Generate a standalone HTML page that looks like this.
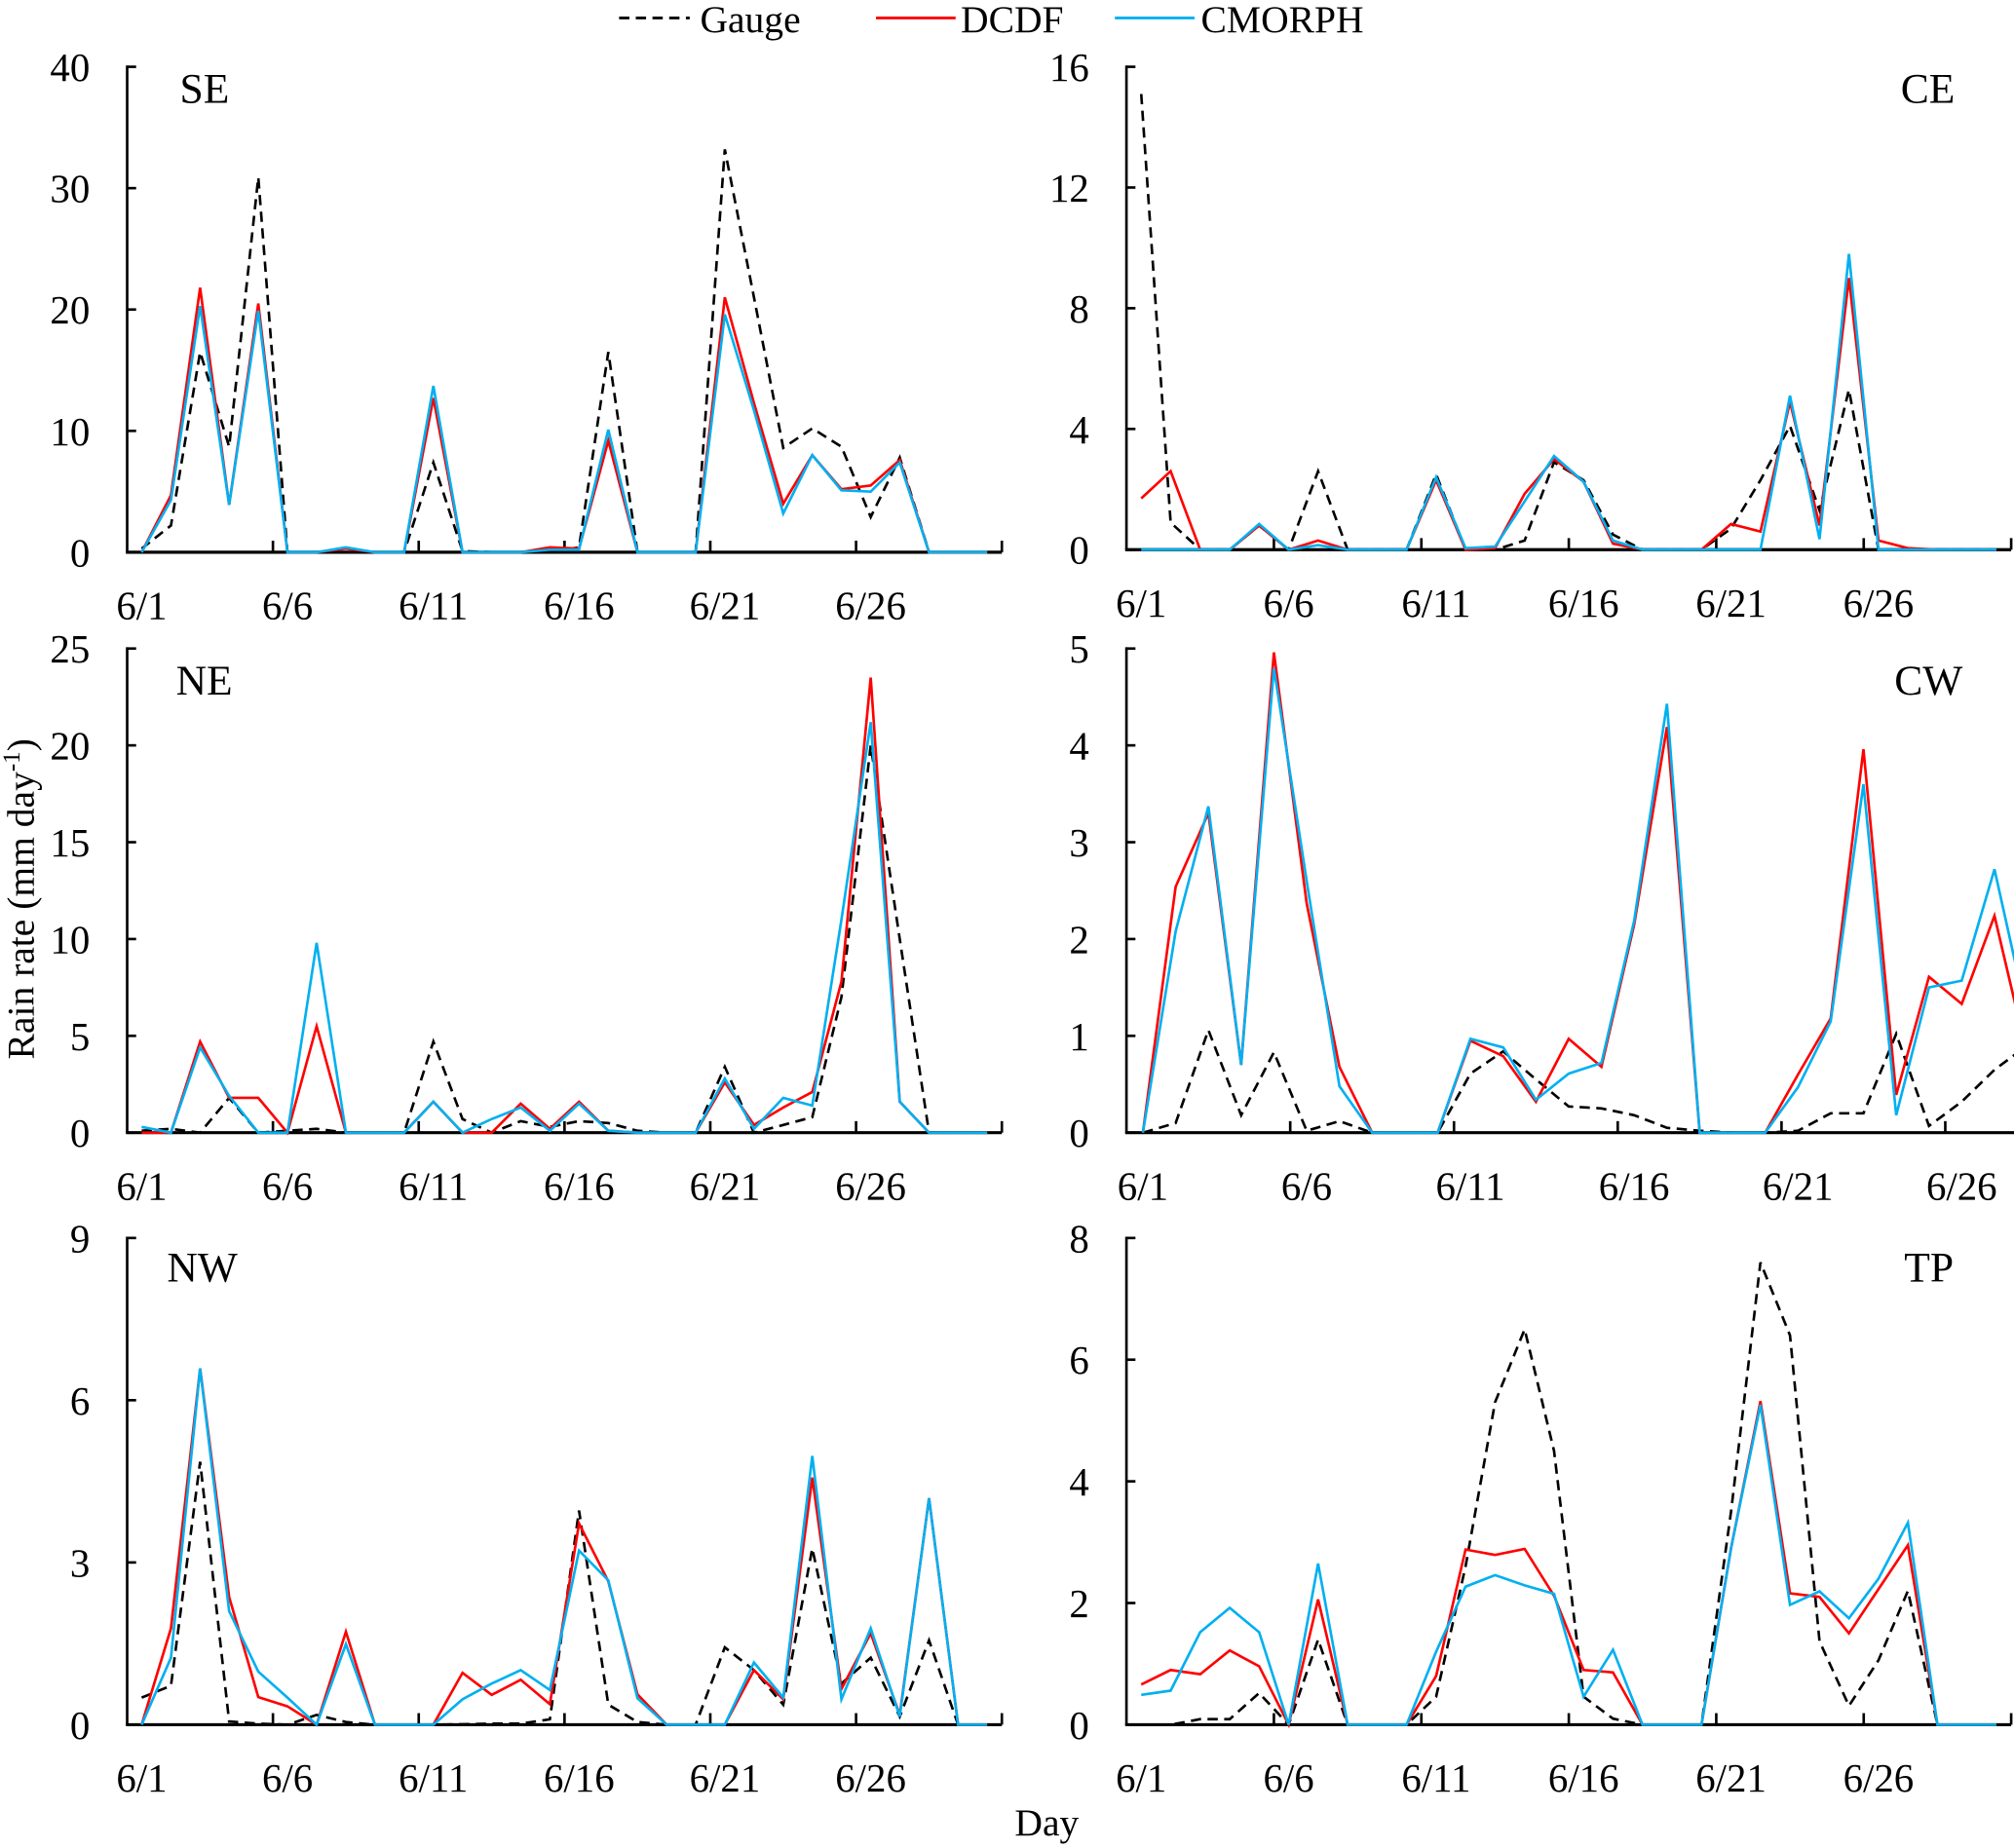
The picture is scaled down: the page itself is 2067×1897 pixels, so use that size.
<!DOCTYPE html>
<html><head><meta charset="utf-8"><style>
html,body{margin:0;padding:0;background:#fff;}
svg{display:block;}
svg text{font-family:"Liberation Serif","Times New Roman",serif;}
</style></head><body>
<svg id="chart" width="2067" height="1897" viewBox="0 0 1568 1439" font-family="Liberation Serif, serif" xmlns="http://www.w3.org/2000/svg">
<g>
 <line x1="482" y1="14" x2="537" y2="14" stroke="#000" stroke-width="2.2" stroke-dasharray="8,5"/>
 <text x="545" y="25" font-size="30" font-family="Liberation Serif, serif">Gauge</text>
 <line x1="682" y1="14" x2="744" y2="14" stroke="#ff0000" stroke-width="2.2"/>
 <text x="748" y="25" font-size="30" font-family="Liberation Serif, serif">DCDF</text>
 <line x1="868" y1="14" x2="930" y2="14" stroke="#00b0f0" stroke-width="2.2"/>
 <text x="935" y="25" font-size="30" font-family="Liberation Serif, serif">CMORPH</text>
</g>
<text x="0" y="0" font-size="30" font-family="Liberation Serif, serif" transform="translate(26,700) rotate(-90)" text-anchor="middle">Rain rate (mm day<tspan font-size="19" dy="-11">-1</tspan><tspan dy="11">)</tspan></text>
<text x="815" y="1429" font-size="30" font-family="Liberation Serif, serif" text-anchor="middle">Day</text>
</svg>
<script>
const days = ["6/1","6/2","6/3","6/4","6/5","6/6","6/7","6/8","6/9","6/10","6/11","6/12","6/13","6/14","6/15","6/16","6/17","6/18","6/19","6/20","6/21","6/22","6/23","6/24","6/25","6/26","6/27","6/28","6/29","6/30"];
const seGauge = [0.3,2.2,16.5,8.7,30.9,0,0,0,0,0,7.4,0.1,0,0,0,0.4,16.5,0,0,0,33.2,21,8.6,10.2,8.7,2.9,7.8,0,0,0];
const seDcdf = [0,4.7,21.8,3.9,20.5,0,0,0.3,0,0,12.7,0,0,0,0.4,0.3,9.2,0,0,0,21,12.3,4,8,5.2,5.5,7.6,0,0,0];
const seCmorph = [0,4.3,20.3,3.9,19.9,0,0,0.4,0,0,13.7,0,0,0,0.2,0.2,10.1,0,0,0,19.6,11.7,3.2,8,5.1,5,7.4,0,0,0];
const ceGauge = [15.1,0.9,0,0,0.8,0,2.6,0,0,0,2.5,0,0,0.3,2.9,2.3,0.5,0,0,0,0.7,2.3,4.1,1.3,5.3,0,0,0,0,0];
const ceDcdf = [1.7,2.6,0,0,0.8,0,0.3,0,0,0,2.3,0,0.05,1.85,3.0,2.25,0.2,0,0,0,0.85,0.6,4.9,0.8,9.0,0.3,0.05,0,0,0];
const ceCmorph = [0,0,0,0,0.85,0,0.15,0,0,0,2.4,0.05,0.1,1.6,3.1,2.25,0.3,0,0,0,0,0,5.1,0.35,9.8,0,0,0,0,0];
const neGauge = [0.1,0.2,0,1.8,0,0.1,0.2,0,0,0,4.7,0.7,0,0.6,0.3,0.6,0.5,0.1,0,0,3.4,0,0.4,0.8,7,20,10,0,0,0];
const neDcdf = [0,0,4.7,1.8,1.8,0,5.5,0,0,0,1.6,0,0,1.5,0.2,1.6,0.1,0,0,0,2.6,0.4,1.3,2.1,7.8,23.5,1.6,0,0,0];
const neCmorph = [0.3,0,4.4,1.9,0,0,9.8,0,0,0,1.6,0,0.7,1.3,0.1,1.5,0.1,0,0,0,2.8,0.2,1.8,1.4,11,21.2,1.6,0,0,0];
const cwGauge = [0,0.1,1.06,0.18,0.83,0.02,0.12,0,0,0,0.61,0.84,0.55,0.27,0.25,0.18,0.05,0.02,0,0,0.02,0.2,0.2,1.02,0.07,0.32,0.65,0.9,1,1];
const cwDcdf = [0,2.54,3.3,0.7,4.96,2.37,0.68,0,0,0,0.95,0.79,0.32,0.97,0.68,2.15,4.19,0,0,0,0.6,1.18,3.96,0.39,1.61,1.33,2.24,0.8,0,0];
const cwCmorph = [0,2.08,3.37,0.7,4.8,2.6,0.48,0,0,0,0.97,0.88,0.34,0.61,0.72,2.19,4.43,0,0,0,0.47,1.15,3.6,0.18,1.5,1.57,2.72,1.2,0,0];
const nwGauge = [0.5,0.72,4.86,0.06,0.02,0,0.18,0.05,0,0,0,0.01,0.02,0.02,0.1,3.96,0.37,0.05,0,0,1.43,1.01,0.37,3.26,0.76,1.24,0.15,1.56,0,0];
const nwDcdf = [0,1.78,6.59,2.36,0.51,0.34,0,1.72,0,0,0,0.96,0.55,0.83,0.38,3.72,2.65,0.56,0,0,0,1.01,0.47,4.57,0.66,1.69,0.18,4.19,0,0];
const nwCmorph = [0,1.24,6.59,2.1,0.98,0.5,0,1.49,0,0,0,0.47,0.76,1.01,0.64,3.22,2.67,0.49,0,0,0,1.15,0.5,4.97,0.47,1.78,0.15,4.19,0,0];
const tpGauge = [0,0,0.09,0.09,0.52,0,1.4,0,0,0,0.46,2.6,5.3,6.5,4.5,0.46,0.1,0,0,0,3.5,7.6,6.4,1.37,0.31,1.06,2.2,0,0,0];
const tpDcdf = [0.66,0.9,0.83,1.22,0.96,0,2.06,0,0,0,0.8,2.88,2.79,2.89,2.12,0.9,0.86,0,0,0,2.9,5.32,2.16,2.1,1.5,2.23,2.95,0,0,0];
const tpCmorph = [0.49,0.56,1.52,1.92,1.52,0,2.65,0,0,0,1.2,2.27,2.46,2.29,2.15,0.46,1.23,0,0,0,2.9,5.26,1.97,2.19,1.75,2.4,3.32,0,0,0];
const panelNames = ["SE","CE","NE","CW","NW","TP"];
const yMax = [40,16,25,5,9,8];
const yStep = [10,4,5,1,3,2];
const gaugeSeries = [seGauge,ceGauge,neGauge,cwGauge,nwGauge,tpGauge];
const dcdfSeries = [seDcdf,ceDcdf,neDcdf,cwDcdf,nwDcdf,tpDcdf];
const cmorphSeries = [seCmorph,ceCmorph,neCmorph,cwCmorph,nwCmorph,tpCmorph];

const layout = [
 {x0:99,step:22.7,yb:430,yt:52,right:false,lx:140,ly:80},
 {x0:877,step:22.96,yb:428,yt:52,right:true,lx:1522,ly:80},
 {x0:99,step:22.7,yb:882,yt:505,right:false,lx:137,ly:541},
 {x0:877,step:25.5,yb:882,yt:505,right:true,lx:1528,ly:541},
 {x0:99,step:22.7,yb:1343,yt:964,right:false,lx:130,ly:998},
 {x0:877,step:22.96,yb:1343,yt:964,right:true,lx:1521,ly:998}
];
const NS="http://www.w3.org/2000/svg";
const FF="Liberation Serif, serif";
const svg=document.getElementById('chart');
function mk(tag,attrs,parent){const e=document.createElementNS(NS,tag);for(const k in attrs)e.setAttribute(k,attrs[k]);parent.appendChild(e);return e;}

panelNames.forEach((name,p)=>{
 const L=layout[p];
 const xScale=i=>L.x0+L.step*(i+0.5);
 const yScale=v=>L.yb-(v/yMax[p])*(L.yb-L.yt);
 const g=mk('g',{},svg);
 
 
 const xEnd=L.x0+L.step*days.length;
 const ya=mk('line',{x1:L.x0,y1:L.yt-1,x2:L.x0,y2:L.yb,stroke:'#000','stroke-width':2},g);
 
 
 const xa=mk('line',{x1:L.x0-1,y1:L.yb,x2:xEnd,y2:L.yb,stroke:'#000','stroke-width':2.4},g);
 
 
 for(let v=0;v<=yMax[p]+1e-9;v+=yStep[p]){
  const y=yScale(v);
  mk('line',{x1:L.x0,y1:y,x2:L.x0+7,y2:y,stroke:'#000','stroke-width':2},g);
  const t=mk('text',{x:L.x0-29,y:y+11,'font-size':31,'font-family':FF,'text-anchor':'end'},g);
  t.textContent=v;
  
  
 }
 for(let k=5;k<=days.length;k+=5){
  const x=L.x0+L.step*k;
  mk('line',{x1:x,y1:L.yb,x2:x,y2:L.yb-9,stroke:'#000','stroke-width':2},g);
 }
 for(let i=0;i<days.length;i+=5){
  const t=mk('text',{x:xScale(i),y:L.yb+52,'font-size':31,'font-family':FF,'text-anchor':'middle'},g);
  t.textContent=days[i];
  
  
 }
 const lab=mk('text',{x:L.lx,y:L.ly,'font-size':33,'font-family':FF,'text-anchor':L.right?'end':'start'},g);
 lab.textContent=name;
 
 
 const series=[[gaugeSeries[p],'#000','8,5','gauge-line'],[dcdfSeries[p],'#ff0000','','dcdf-line'],[cmorphSeries[p],'#00b0f0','','cmorph-line']];
 series.forEach(s=>{
  const pts=s[0].map((v,i)=>xScale(i).toFixed(1)+','+yScale(v).toFixed(1)).join(' ');
  const pl=mk('polyline',{points:pts,fill:'none',stroke:s[1],'stroke-width':2,'stroke-linejoin':'miter'},g);
  if(s[2])pl.setAttribute('stroke-dasharray',s[2]);
  
  
 });
});
</script>
</body></html>
